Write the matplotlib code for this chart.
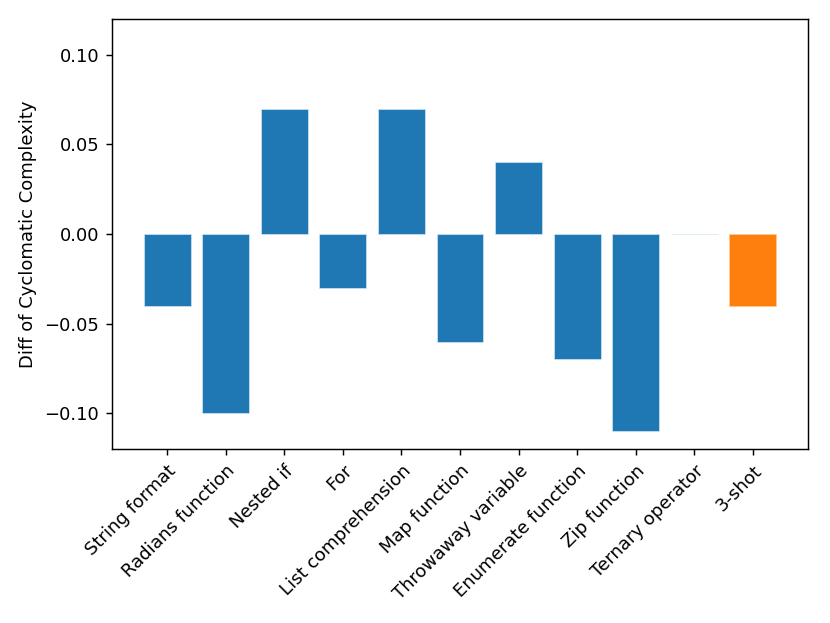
import matplotlib.pyplot as plt

labels = ["String format", "Radians function", "Nested if", "For",
          "List comprehension", "Map function", "Throwaway variable",
          "Enumerate function", "Zip function", "Ternary operator", "3-shot"]
diffs = [-0.04, -0.10, 0.07, -0.03, 0.07, -0.06, 0.04, -0.07, -0.11, 0.0, -0.04]
colors = ["tab:blue"] * 10 + ["tab:orange"]
edges = ["#cfe6f2"] * 10 + ["#ffc890"]

fig = plt.figure(figsize=(830 / 130, 623 / 130), dpi=130)
ax = fig.add_axes([112 / 830, 1 - 449 / 623, (808 - 112) / 830, (449 - 19) / 623])
ax.bar(labels, diffs, color=colors, edgecolor=edges, linewidth=0.4)
ax.set_ylim(-0.12, 0.12)
ax.set_ylabel("Diff of Cyclomatic Complexity")
plt.setp(ax.get_xticklabels(), rotation=45, ha="right", rotation_mode="anchor")
fig.savefig("out.png", dpi=130)
